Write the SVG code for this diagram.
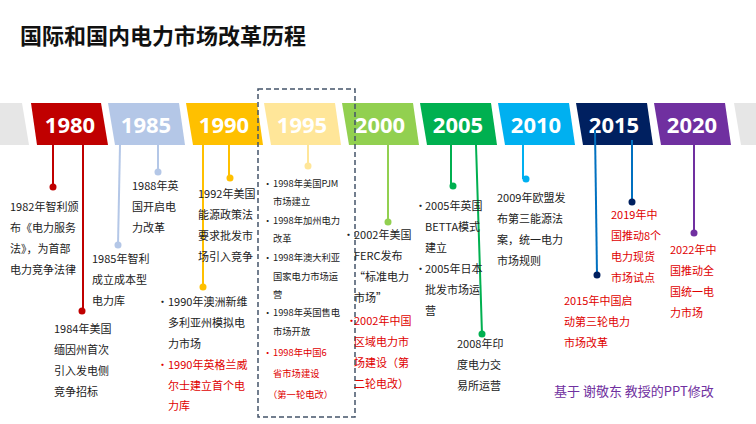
<svg xmlns="http://www.w3.org/2000/svg" width="756" height="424" viewBox="0 0 756 424">
<style>
text{font-family:"Noto Sans CJK SC","Noto Sans",sans-serif;}
.yr{font-family:"Noto Sans","Liberation Sans",sans-serif;font-size:22px;font-weight:bold;fill:#fff;text-anchor:middle}
.t{font-size:11px;fill:#222}
.s{font-size:9.3px;fill:#222}
.r{fill:#e00000}
</style>
<rect width="756" height="424" fill="#fff"/>
<text x="20" y="44" style="font-size:22px;font-weight:bold;fill:#111">国际和国内电力市场改革历程</text>
<g id="tabs">
<polygon points="-10,103 22,103 29,145 -10,145" fill="#e6e6e6"/>
<polygon points="734,103 756,103 756,145 741,145" fill="#e6e6e6"/>
<g id="t1980"><polygon points="31,103 101,103 108,145 37,145" fill="#c00000"/><text class="yr" x="70" y="133">1980</text></g>
<g id="t1985"><polygon points="108,103 179,103 185,145 115,145" fill="#b4c7e7"/><text class="yr" x="146" y="133">1985</text></g>
<g id="t1990"><polygon points="186,103 257,103 263,145 193,145" fill="#ffc000"/><text class="yr" x="224" y="133">1990</text></g>
<g id="t1995"><polygon points="264,103 335,103 341,145 271,145" fill="#ffe699"/><text class="yr" x="302" y="133">1995</text></g>
<g id="t2000"><polygon points="342,103 413,103 419,145 349,145" fill="#92d050"/><text class="yr" x="380" y="133">2000</text></g>
<g id="t2005"><polygon points="420,103 491,103 497,145 427,145" fill="#00b050"/><text class="yr" x="458" y="133">2005</text></g>
<g id="t2010"><polygon points="498,103 569,103 575,145 505,145" fill="#00b0f0"/><text class="yr" x="536" y="133">2010</text></g>
<g id="t2015"><polygon points="576,103 647,103 653,145 583,145" fill="#002060"/><text class="yr" x="614" y="133">2015</text></g>
<g id="t2020"><polygon points="654,103 725,103 731,145 661,145" fill="#7030a0"/><text class="yr" x="692" y="133">2020</text></g>
</g>
<rect x="258" y="89" width="97" height="328" fill="none" stroke="#44546a" stroke-width="1.5" stroke-dasharray="5,3"/>
<g id="connectors" stroke-width="2">
<line x1="53" y1="145" x2="53" y2="187" stroke="#c00000"/><circle cx="53" cy="187" r="3.5" fill="#c00000"/>
<line x1="83" y1="145" x2="83" y2="311" stroke="#c00000"/><circle cx="82" cy="311" r="3.5" fill="#c00000"/>
<line x1="120" y1="145" x2="118" y2="245" stroke="#b4c7e7"/><circle cx="118" cy="245" r="3.5" fill="#b4c7e7"/>
<line x1="158" y1="145" x2="158" y2="172" stroke="#b4c7e7"/><circle cx="158" cy="172" r="3.5" fill="#b4c7e7"/>
<line x1="203" y1="145" x2="203" y2="287" stroke="#ffc000"/><circle cx="203" cy="287" r="3.5" fill="#ffc000"/>
<line x1="229" y1="145" x2="229" y2="178" stroke="#ffc000"/><circle cx="230" cy="178" r="3.5" fill="#ffc000"/>
<line x1="308" y1="145" x2="308" y2="166" stroke="#ffe699"/><circle cx="308" cy="166" r="3.5" fill="#ffe699"/>
<line x1="388" y1="145" x2="388" y2="222" stroke="#92d050"/><circle cx="388" cy="222" r="3.5" fill="#92d050"/>
<line x1="451" y1="145" x2="451" y2="186" stroke="#00b050"/><circle cx="453" cy="186" r="3.5" fill="#00b050"/>
<line x1="476" y1="145" x2="482" y2="334" stroke="#00b050"/><circle cx="482" cy="334" r="3.5" fill="#00b050"/>
<line x1="523" y1="145" x2="523" y2="179" stroke="#00b0f0"/><circle cx="526" cy="179" r="3.5" fill="#00b0f0"/>
<line x1="595" y1="130" x2="597" y2="275" stroke="#0070c0"/><circle cx="597" cy="275" r="3.5" fill="#002060"/>
<line x1="632" y1="140" x2="632" y2="202" stroke="#0070c0"/><circle cx="632" cy="202" r="3.5" fill="#002060"/>
<line x1="694" y1="145" x2="694" y2="233" stroke="#7030a0"/><circle cx="694" cy="233" r="3.5" fill="#7030a0"/>
</g>
<g id="n1980">
<text class="t" x="10" y="211">1982年智利颁</text><text class="t" x="10" y="232">布《电力服务</text><text class="t" x="10" y="253">法》，为首部</text><text class="t" x="10" y="274">电力竞争法律</text>
<text class="t" x="54" y="333">1984年美国</text><text class="t" x="54" y="354">缅因州首次</text><text class="t" x="54" y="375">引入发电侧</text><text class="t" x="54" y="396">竞争招标</text>
</g>
<g id="n1985">
<text class="t" x="92" y="263">1985年智利</text><text class="t" x="92" y="284">成立成本型</text><text class="t" x="92" y="305">电力库</text>
<text class="t" x="132" y="190">1988年英</text><text class="t" x="132" y="211">国开启电</text><text class="t" x="132" y="232">力改革</text>
</g>
<g id="n1990">
<text class="t" x="198" y="198">1992年美国</text><text class="t" x="198" y="219">能源政策法</text><text class="t" x="198" y="240">要求批发市</text><text class="t" x="198" y="261">场引入竞争</text>
<text class="t" x="157" y="306">•</text><text class="t" x="168" y="306">1990年澳洲新维</text><text class="t" x="168" y="327">多利亚州模拟电</text><text class="t" x="168" y="348">力市场</text>
<text class="t r" x="157" y="369">•</text><text class="t r" x="168" y="369">1990年英格兰威</text><text class="t r" x="168" y="390">尔士建立首个电</text><text class="t r" x="168" y="410">力库</text>
</g>
<g id="n1995">
<text class="s" x="263" y="187">•</text><text class="s" x="273" y="187">1998年美国PJM</text><text class="s" x="273" y="205">市场建立</text>
<text class="s" x="263" y="224">•</text><text class="s" x="273" y="224">1998年加州电力</text><text class="s" x="273" y="242">改革</text>
<text class="s" x="263" y="261">•</text><text class="s" x="273" y="261">1998年澳大利亚</text><text class="s" x="273" y="280">国家电力市场运</text><text class="s" x="273" y="298">营</text>
<text class="s" x="263" y="316">•</text><text class="s" x="273" y="316">1998年英国售电</text><text class="s" x="273" y="335">市场开放</text>
<text class="s r" x="263" y="356">•</text><text class="s r" x="273" y="356">1998年中国6</text><text class="s r" x="273" y="377">省市场建设</text><text class="s r" x="268" y="398">（第一轮电改）</text>
</g>
<g id="n2000">
<text class="t" x="343" y="239">•</text><text class="t" x="354" y="239">2002年美国</text><text class="t" x="354" y="260">FERC发布</text><text class="t" x="354" y="281">“标准电力</text><text class="t" x="354" y="302">市场”</text>
<text class="t r" x="346" y="325">•</text><text class="t r" x="354" y="325">2002年中国</text><text class="t r" x="354" y="346">区域电力市</text><text class="t r" x="354" y="367">场建设（第</text><text class="t r" x="354" y="388">二轮电改）</text>
</g>
<g id="n2005">
<text class="t" x="415" y="210">•</text><text class="t" x="425" y="210">2005年英国</text><text class="t" x="425" y="231">BETTA模式</text><text class="t" x="425" y="252">建立</text>
<text class="t" x="415" y="273">•</text><text class="t" x="425" y="273">2005年日本</text><text class="t" x="425" y="294">批发市场运</text><text class="t" x="425" y="315">营</text>
<text class="t" x="457" y="348">2008年印</text><text class="t" x="457" y="369">度电力交</text><text class="t" x="457" y="390">易所运营</text>
</g>
<g id="n2010">
<text class="t" x="497" y="202">2009年欧盟发</text><text class="t" x="497" y="223">布第三能源法</text><text class="t" x="497" y="244">案，统一电力</text><text class="t" x="497" y="265">市场规则</text>
</g>
<g id="n2015">
<text class="t r" x="611" y="219">2019年中</text><text class="t r" x="611" y="240">国推动8个</text><text class="t r" x="611" y="261">电力现货</text><text class="t r" x="611" y="282">市场试点</text>
<text class="t r" x="564" y="305">2015年中国启</text><text class="t r" x="564" y="326">动第三轮电力</text><text class="t r" x="564" y="347">市场改革</text>
</g>
<g id="n2020">
<text class="t r" x="670" y="254">2022年中</text><text class="t r" x="670" y="275">国推动全</text><text class="t r" x="670" y="296">国统一电</text><text class="t r" x="670" y="317">力市场</text>
</g>
<text x="554" y="396" style="font-size:13px;fill:#7030a0">基于 谢敬东 教授的PPT修改</text>
</svg>
